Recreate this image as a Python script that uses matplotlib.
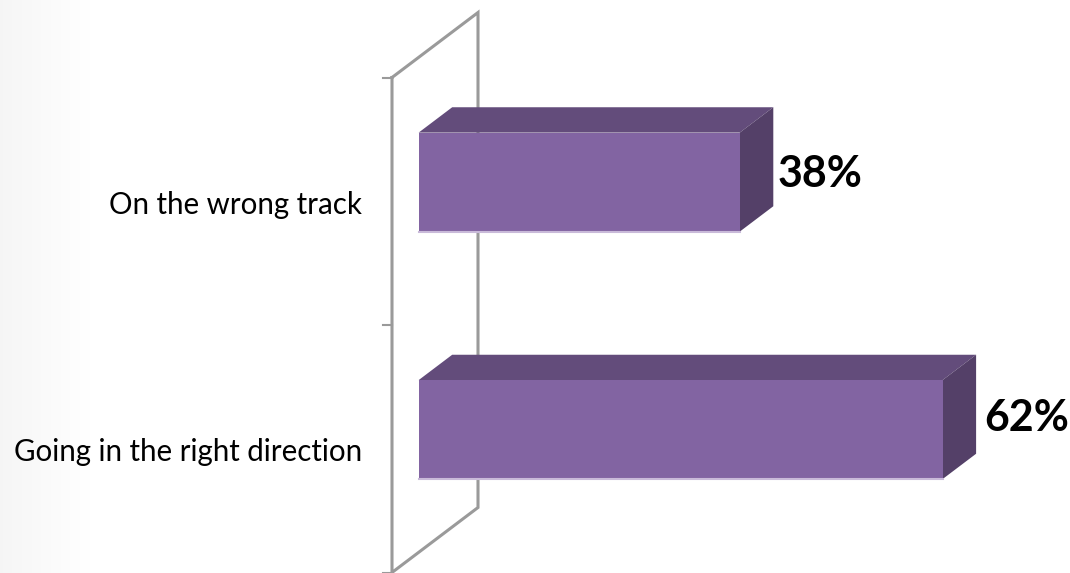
import matplotlib
matplotlib.use("Agg")
import matplotlib.pyplot as plt
from matplotlib.patches import Polygon
import numpy as np

categories = ["Going in the right direction", "On the wrong track"]
values = [62, 38]
labels = ["62%", "38%"]

W, H = 1070, 573
px_per_pct = 8.45   # px for 1 percent
px_per_cat = 247.5  # px for one category band
x0_px = 392         # left wall, front edge
y0_px = 448.75      # first category on the front plane
depth_dx = 86 / px_per_pct
depth_dy = 65 / px_per_cat
bar_front = 0.31
bar_back = 0.70
half = 0.2
bar_drop = 1 / px_per_cat  # bars sit 1px lower than the depth alone gives

front_col = "#8264a2"
top_col = "#634c7b"
side_col = "#544068"
wall_col = "#9a9a9a"

# value labels do not sit at the same height against their bars
label_dy = [-0.06, -0.075]
label_dx = [1.0, 0.5]


def proj(v, c, d=0.0):
    # fake 3d: depth shifts a point right and up
    return v + d * depth_dx, c + d * depth_dy


fig = plt.figure(figsize=(W / 100, H / 100), dpi=100)
ax = fig.add_axes([0, 0, 1, 1])
ax.set_xlim(-x0_px / px_per_pct, (W - x0_px) / px_per_pct)
ax.set_ylim((y0_px - H) / px_per_cat, y0_px / px_per_cat)
ax.axis("off")

# pale grey fade on the left edge
grad = np.linspace(0.96, 1.0, 100).reshape(1, -1)
bg = fig.add_axes([0, 0, 100 / W, 1], zorder=-1)
bg.imshow(grad, cmap="gray", vmin=0, vmax=1, aspect="auto")
bg.axis("off")

# walls
wall = [proj(0, 1.5), proj(0, 1.5, 1), proj(0, -0.5, 1), proj(0, -0.5), proj(0, 1.5)]
ax.plot(*zip(*wall), color=wall_col, lw=2.2, zorder=1, solid_joinstyle="miter")
for c in [-0.5, 0.5, 1.5]:
    ax.plot([-9 / px_per_pct, 0], [c, c], color=wall_col, lw=1.5, zorder=1)

# bars
for i, v in enumerate(values):
    lo, hi = i - half - bar_drop, i + half - bar_drop
    top = [proj(0, hi, bar_front), proj(0, hi, bar_back), proj(v, hi, bar_back), proj(v, hi, bar_front)]
    side = [proj(v, lo, bar_front), proj(v, hi, bar_front), proj(v, hi, bar_back), proj(v, lo, bar_back)]
    front = [proj(0, lo, bar_front), proj(0, hi, bar_front), proj(v, hi, bar_front), proj(v, lo, bar_front)]
    ax.add_patch(Polygon(top, closed=True, fc=top_col, ec="none", zorder=3))
    ax.add_patch(Polygon(side, closed=True, fc=side_col, ec="none", zorder=3))
    ax.add_patch(Polygon(front, closed=True, fc=front_col, ec="none", zorder=4))
    ax.plot(*zip(front[0], front[3]), color="#c9bad9", lw=1.5, zorder=5)

    tx, ty = proj(v, i, bar_back)
    ax.text(tx + label_dx[i], ty + label_dy[i], labels[i], fontsize=31, fontweight="bold",
            family="Lato", color="black", ha="left", va="center", zorder=6)
    lx, ly = proj(-3.5, i, 0)
    ax.text(lx, ly - 0.015, categories[i], fontsize=21.25, family="Lato",
            color="black", ha="right", va="center", zorder=6)

fig.savefig("out.png", dpi=100)
